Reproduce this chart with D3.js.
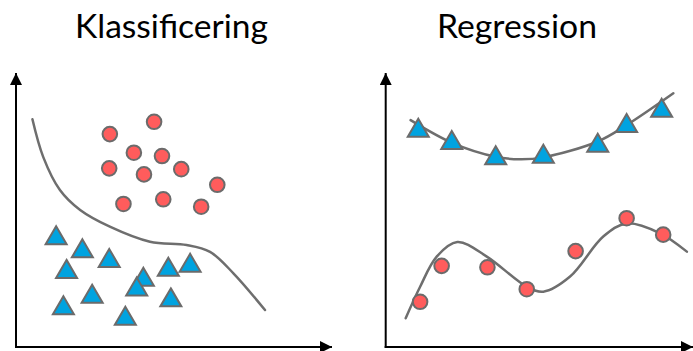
<!DOCTYPE html>
<html><head><meta charset="utf-8">
<script src="https://cdn.jsdelivr.net/npm/d3@7"></script>
<style>body{margin:0;background:#fff}svg{display:block}</style>
</head><body>
<svg id="c" width="693" height="351"></svg>
<script>
// ---- data (axis units 0..10 in each panel) ----
const titles = ["Klassificering", "Regression"];
const clsCircles = [[4.37,8.22],[2.97,7.77],[3.73,7.09],[4.62,6.97],[2.95,6.52],[4.05,6.30],[5.23,6.49],[6.37,5.92],[3.40,5.22],[4.66,5.39],[5.86,5.12]];
const clsTriangles = [[1.27,3.99],[2.10,3.51],[2.95,3.16],[1.60,2.76],[4.03,2.47],[3.82,2.12],[4.82,2.84],[5.51,2.98],[2.41,1.85],[1.50,1.43],[4.90,1.72],[3.46,1.05]];
const clsBoundary = [[0.52,8.31],[0.86,6.94],[1.39,5.73],[2.03,5.00],[2.97,4.39],[4.24,3.84],[5.40,3.72],[6.14,3.47],[6.88,2.69],[7.88,1.35]];
const regTriangles = [[1.06,7.91],[2.15,7.46],[3.58,6.91],[5.13,6.96],[6.90,7.36],[7.84,8.08],[8.98,8.64]];
const regUpperCurve = [[0.81,8.28],[2.20,7.43],[3.58,6.94],[4.37,6.85],[5.13,6.92],[6.90,7.50],[7.84,8.10],[9.36,9.26]];
const regCircles = [[1.12,1.65],[1.82,2.96],[3.31,2.91],[4.59,2.11],[6.18,3.50],[7.84,4.70],[9.03,4.10]];
const regLowerCurve = [[0.65,1.05],[1.12,2.20],[1.66,3.30],[2.33,3.83],[3.29,3.30],[4.59,2.20],[5.13,2.02],[6.00,2.57],[7.08,4.03],[7.84,4.51],[8.93,4.15],[9.80,3.48]];

const svg = d3.select("#c");
const defs = svg.append("defs");
defs.append("marker").attr("id","arr").attr("viewBox","0 0 10 10").attr("refX",10).attr("refY",5)
  .attr("markerWidth",6).attr("markerHeight",6).attr("markerUnits","strokeWidth").attr("orient","auto")
  .append("path").attr("d","M0,0L10,5L0,10Z").attr("fill","#000");

const CIRC_FILL = "#ff5c5c", TRI_FILL = "#00a3e0", STROKE = "#6b6b6b";

function panel(xr, yr, title, titleX, titleW, circles, triangles, curves){
  const x = d3.scaleLinear().domain([0,10]).range(xr);
  const y = d3.scaleLinear().domain([0,10]).range(yr);
  const g = svg.append("g");
  // axes
  g.append("line").attr("x1",x(0)).attr("y1",y(0)+1).attr("x2",x(0)).attr("y2",y(10))
    .attr("stroke","#000").attr("stroke-width",2).attr("marker-end","url(#arr)");
  g.append("line").attr("x1",x(0)-1).attr("y1",y(0)).attr("x2",x(10)).attr("y2",y(0))
    .attr("stroke","#000").attr("stroke-width",2).attr("marker-end","url(#arr)");
  // curves
  const line = d3.line().x(d=>x(d[0])).y(d=>y(d[1])).curve(d3.curveCatmullRom.alpha(0.5));
  curves.forEach(c => g.append("path").attr("d",line(c)).attr("fill","none")
    .attr("stroke","#6e6e6e").attr("stroke-width",2.5).attr("stroke-linecap","round"));
  // triangles
  const tri = "M0,-11.5L10.5,6.5L-10.5,6.5Z";
  g.selectAll(null).data(triangles).join("path")
    .attr("transform",d=>`translate(${x(d[0])},${y(d[1])})`).attr("d",tri)
    .attr("fill",TRI_FILL).attr("stroke",STROKE).attr("stroke-width",2).attr("stroke-linejoin","miter");
  // circles
  g.selectAll(null).data(circles).join("circle")
    .attr("cx",d=>x(d[0])).attr("cy",d=>y(d[1])).attr("r",7.3)
    .attr("fill",CIRC_FILL).attr("stroke",STROKE).attr("stroke-width",2);
  // title
  const t = svg.append("text").text(title).attr("x",titleX).attr("y",38)
    .attr("text-anchor","middle").attr("font-family","Lato, 'Open Sans', sans-serif")
    .attr("font-size",30).attr("fill","#000");
  const w = t.node().getComputedTextLength();
  t.attr("font-size", 30*titleW/w);
}

panel([16,332],[347,73], titles[0], 171.5, 193, clsCircles, clsTriangles, [clsBoundary]);
panel([385.7,693],[347,73], titles[1], 517, 160, regCircles, regTriangles, [regUpperCurve, regLowerCurve]);
</script>
</body></html>
